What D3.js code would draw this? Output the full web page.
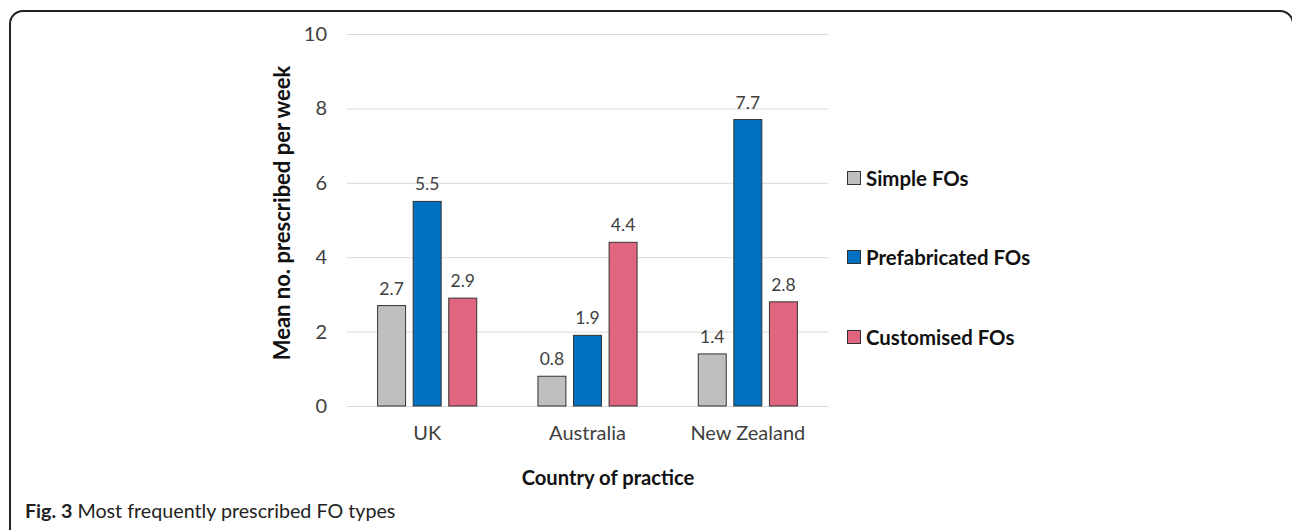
<!DOCTYPE html>
<html>
<head>
<meta charset="utf-8">
<script src="https://cdn.jsdelivr.net/npm/d3@7"></script>
<style>
  html, body { margin: 0; padding: 0; background: #fff; }
  svg { display: block; }
  text { font-family: Lato, "Open Sans", sans-serif; }
</style>
</head>
<body>
<svg id="chart" width="1292" height="530"></svg>
<script>
// Mean number of foot orthoses prescribed per week, by country
const countries = ["UK", "Australia", "New Zealand"];
const seriesNames = ["Simple FOs", "Prefabricated FOs", "Customised FOs"];
const simpleFOs = [2.7, 0.8, 1.4];
const prefabricatedFOs = [5.5, 1.9, 7.7];
const customisedFOs = [2.9, 4.4, 2.8];
const yTicks = [0, 2, 4, 6, 8, 10];
const seriesColors = ["#bfbfbf", "#0070c0", "#e0657f"];

const seriesValues = [simpleFOs, prefabricatedFOs, customisedFOs];

const svg = d3.select("#chart");

// Outer figure frame with rounded top corners
svg.append("path")
  .attr("d", "M10,530 V24 A13,13 0 0 1 23,11 H1280 A13,13 0 0 1 1293,24 V530")
  .attr("fill", "none")
  .attr("stroke", "#222")
  .attr("stroke-width", 2);

const plotLeft = 347, plotRight = 828, plotTop = 34, plotBottom = 406;

const y = d3.scaleLinear().domain([0, 10]).range([plotBottom, plotTop]);
const x0 = d3.scaleBand().domain(countries).range([plotLeft, plotRight]).padding(0);
const x1 = d3.scaleBand().domain(seriesNames).range([0, x0.bandwidth()])
  .paddingInner(0.214).paddingOuter(0.86);

// Value axis labels
const yAxis = d3.axisLeft(y).tickValues(yTicks).tickSize(0).tickPadding(20);
const gy = svg.append("g").attr("transform", `translate(${plotLeft},0)`).call(yAxis);
gy.select(".domain").remove();
gy.selectAll(".tick line").remove();
gy.selectAll(".tick text")
  .attr("font-size", 20)
  .attr("fill", "#404040")
  .style("font-family", "Lato, sans-serif");

// Horizontal gridlines
svg.append("g").selectAll("line")
  .data(yTicks)
  .join("line")
  .attr("x1", plotLeft).attr("x2", plotRight)
  .attr("y1", d => y(d) + 0.5).attr("y2", d => y(d) + 0.5)
  .attr("stroke", "#d9d9d9")
  .attr("stroke-width", 1);

// Grouped bars
const groups = svg.append("g").selectAll("g")
  .data(countries)
  .join("g")
  .attr("transform", c => `translate(${x0(c)},0)`);

const cells = (c, i) => seriesNames.map((s, j) => ({ s, j, v: seriesValues[j][i] }));

groups.selectAll("rect")
  .data(cells)
  .join("rect")
  .attr("x", d => x1(d.s))
  .attr("y", d => y(d.v))
  .attr("width", x1.bandwidth())
  .attr("height", d => y(0) - y(d.v))
  .attr("fill", d => seriesColors[d.j])
  .attr("stroke", "#333")
  .attr("stroke-width", 1);

groups.selectAll("text.val")
  .data(cells)
  .join("text")
  .attr("class", "val")
  .attr("x", d => x1(d.s) + x1.bandwidth() / 2)
  .attr("y", d => y(d.v) - 11)
  .attr("text-anchor", "middle")
  .attr("font-size", 17.5)
  .attr("fill", "#404040")
  .text(d => d.v.toFixed(1));

// Category axis labels
const xAxis = d3.axisBottom(x0).tickSize(0).tickPadding(20);
const gx = svg.append("g").attr("transform", `translate(0,${plotBottom})`).call(xAxis);
gx.select(".domain").remove();
gx.selectAll(".tick text")
  .attr("font-size", 20)
  .attr("fill", "#404040")
  .style("font-family", "Lato, sans-serif");

// Axis titles
svg.append("text")
  .attr("transform", "translate(290,213) rotate(-90)")
  .attr("text-anchor", "middle")
  .attr("font-size", 22)
  .attr("font-weight", "bold")
  .attr("fill", "#111")
  .text("Mean no. prescribed per week");

svg.append("text")
  .attr("x", 608).attr("y", 485)
  .attr("text-anchor", "middle")
  .attr("font-size", 20.2)
  .attr("font-weight", "bold")
  .attr("fill", "#111")
  .text("Country of practice");

// Legend
const legendY = [178, 257, 337];
const legend = svg.append("g").selectAll("g")
  .data(seriesNames)
  .join("g")
  .attr("transform", (d, i) => `translate(847,${legendY[i]})`);
legend.append("rect")
  .attr("x", 0.5).attr("y", -6.5)
  .attr("width", 13).attr("height", 13)
  .attr("fill", (d, i) => seriesColors[i])
  .attr("stroke", "#333");
legend.append("text")
  .attr("x", 19).attr("y", 7.5)
  .attr("font-size", 20.4)
  .attr("font-weight", "bold")
  .attr("fill", "#111")
  .text(d => d);

// Figure caption
const cap = svg.append("text").attr("x", 25).attr("y", 518).attr("font-size", 19.7).attr("fill", "#222");
cap.append("tspan").attr("font-weight", "bold").text("Fig. 3");
cap.append("tspan").text(" Most frequently prescribed FO types");
</script>
</body>
</html>
